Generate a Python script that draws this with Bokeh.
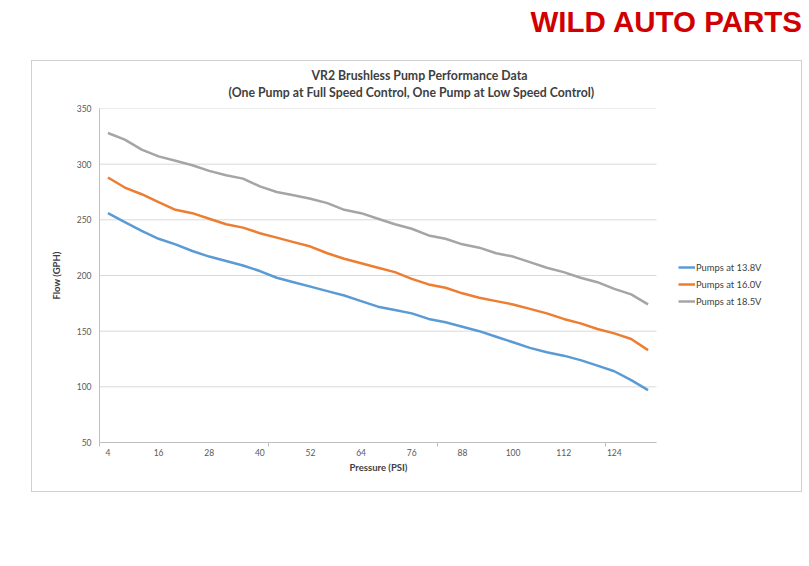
from bokeh.plotting import figure
from bokeh.models import Range1d, FixedTicker, Legend, LegendItem, Title, Div, Spacer
from bokeh.layouts import column, row
from bokeh.embed import file_html
from bokeh.resources import INLINE

# ---- data ----
pressure = [4, 8, 12, 16, 20, 24, 28, 32, 36, 40, 44, 48, 52, 56, 60, 64, 68,
            72, 76, 80, 84, 88, 92, 96, 100, 104, 108, 112, 116, 120, 124, 128, 132]
flow_13_8 = [256, 248, 240, 233, 228, 222, 217, 213, 209, 204, 198, 194, 190, 186, 182, 177, 172,
             169, 166, 161, 158, 154, 150, 145, 140, 135, 131, 128, 124, 119, 114, 106, 97]
flow_16_0 = [288, 279, 273, 266, 259, 256, 251, 246, 243, 238, 234, 230, 226, 220, 215, 211, 207,
             203, 197, 192, 189, 184, 180, 177, 174, 170, 166, 161, 157, 152, 148, 143, 133]
flow_18_5 = [328, 322, 313, 307, 303, 299, 294, 290, 287, 280, 275, 272, 269, 265, 259, 256, 251,
             246, 242, 236, 233, 228, 225, 220, 217, 212, 207, 203, 198, 194, 188, 183, 174]
series_names = ["Pumps at 13.8V", "Pumps at 16.0V", "Pumps at 18.5V"]
series_colors = ["#5b9bd5", "#ed7d31", "#a5a5a5"]
x_tick_labels = [4, 16, 28, 40, 52, 64, 76, 88, 100, 112, 124]
y_ticks = [50, 100, 150, 200, 250, 300, 350]
title_line1 = "VR2 Brushless Pump Performance Data"
title_line2 = "(One Pump at Full Speed Control, One Pump at Low Speed Control)"
x_label = "Pressure (PSI)"
y_label = "Flow (GPH)"
brand = "WILD AUTO PARTS"

FONT = "Lato"
TXT = "#404040"

# ---- layout geometry (pixels) ----
W, H = 771, 432
ML, MR, MT, MB = 67, 12, 47, 51
PLOT_W = 557            # width of the data area (the legend sits to its right)
frame_w = W - ML - MR

half = (pressure[1] - pressure[0]) / 2
x_lo, x_hi = pressure[0] - half, pressure[-1] + half
x_end = x_lo + (x_hi - x_lo) * frame_w / PLOT_W
tick_marks = [pressure[i] - half for i in range(0, len(pressure), 10)]

p = figure(width=W, height=H,
           x_range=Range1d(x_lo, x_end),
           y_range=Range1d(y_ticks[0], y_ticks[-1]),
           output_backend="svg", toolbar_location=None, title=None,
           min_border_left=ML, min_border_right=MR, min_border_top=MT, min_border_bottom=MB)
p.styles = {"border": "1px solid #d0d0d0"}
p.outline_line_color = None
p.background_fill_color = "white"
p.border_fill_color = "white"

# titles (two lines, each centred over the chart area)
t2 = Title(text=title_line2, align="left", offset=129, text_font=FONT, text_font_size="12.3px",
           text_font_style="bold", text_color=TXT, vertical_align="middle", standoff=16)
t1 = Title(text=title_line1, align="left", offset=212, text_font=FONT, text_font_size="12.3px",
           text_font_style="bold", text_color=TXT)
try:
    t1.standoff = -15
except Exception:
    t1.standoff = 0
p.add_layout(t2, "above")
p.add_layout(t1, "above")

# x axis
p.xaxis.bounds = (x_lo, x_hi)
p.xaxis.ticker = FixedTicker(ticks=x_tick_labels, minor_ticks=tick_marks)
p.xaxis.major_tick_line_color = None
p.xaxis.major_tick_out = 0
p.xaxis.major_tick_in = 0
p.xaxis.minor_tick_line_color = "#bfbfbf"
p.xaxis.minor_tick_out = 4
p.xaxis.minor_tick_in = 0
p.xaxis.axis_line_color = "#bfbfbf"
p.xaxis.major_label_standoff = 2
p.xaxis.major_label_text_font = FONT
p.xaxis.major_label_text_font_size = "8.5px"
p.xaxis.major_label_text_color = "#595959"

# x axis title centred under the data area
xt = Title(text=x_label, align="left", offset=250, text_font=FONT, text_font_size="9.5px",
           text_font_style="bold", text_color=TXT, standoff=2)
p.add_layout(xt, "below")

# y axis
p.yaxis.ticker = FixedTicker(ticks=y_ticks)
p.yaxis.major_tick_line_color = None
p.yaxis.major_tick_out = 0
p.yaxis.major_tick_in = 0
p.yaxis.minor_tick_line_color = None
p.yaxis.axis_line_color = "#bfbfbf"
p.yaxis.major_label_standoff = 8
p.yaxis.major_label_text_font = FONT
p.yaxis.major_label_text_font_size = "8.5px"
p.yaxis.major_label_text_color = "#595959"
p.yaxis.axis_label = y_label
p.yaxis.axis_label_text_font = FONT
p.yaxis.axis_label_text_font_size = "9.5px"
p.yaxis.axis_label_text_font_style = "bold"
p.yaxis.axis_label_text_color = TXT
p.yaxis.axis_label_standoff = 12

p.xgrid.grid_line_color = None
p.ygrid.grid_line_color = None

# horizontal gridlines across the data area only
p.segment(x0=[x_lo] * len(y_ticks), y0=y_ticks, x1=[x_hi] * len(y_ticks), y1=y_ticks,
          line_color="#d9d9d9", line_width=1)

items = []
for name, ys, col in zip(series_names, [flow_13_8, flow_16_0, flow_18_5], series_colors):
    r = p.line(pressure, ys, line_color=col, line_width=2.5, line_join="round")
    items.append(LegendItem(label=name, renderers=[r]))

legend = Legend(items=items, location=(PLOT_W + 22, 134), padding=0, spacing=3,
                label_height=14, glyph_height=14, glyph_width=17, label_standoff=1,
                border_line_color=None, background_fill_alpha=0,
                label_text_font=FONT, label_text_font_size="9.4px", label_text_color=TXT)
p.add_layout(legend)

header = Div(text=('<div style="font-family: \'Liberation Sans\', Arial, sans-serif; font-weight: bold;'
                   ' font-size: 29.5px; line-height: 29px; color: #d10000; text-align: right;'
                   ' width: 797px; padding-top: 2px; white-space: nowrap;">' + brand + '</div>'),
             width=793, height=50)

layout = column(header, row(Spacer(width=31, height=H), p))
open("out.html", "w").write(file_html(layout, INLINE))
